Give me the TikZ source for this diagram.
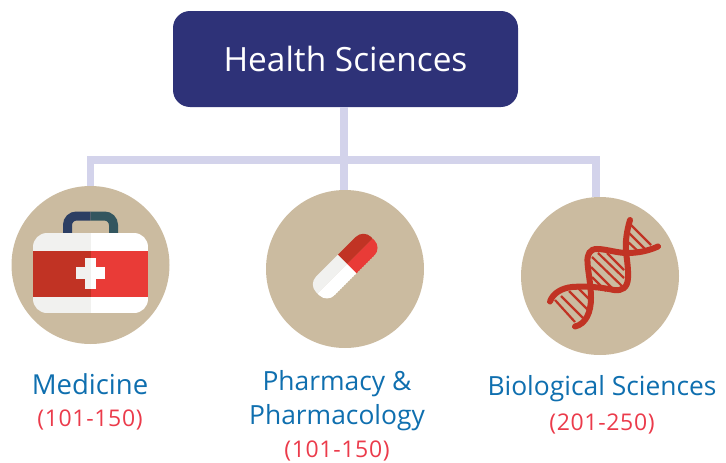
\documentclass[tikz,border=0pt]{standalone}
\usepackage{fontspec}
\setmainfont{Open Sans}
\newfontfamily\rangefont[LetterSpace=3]{Open Sans}
\usetikzlibrary{positioning}

\definecolor{hsnavy}{HTML}{2E3278}
\definecolor{hsbar}{HTML}{D3D3EB}
\definecolor{hstan}{HTML}{CBBBA0}
\definecolor{hsblue}{HTML}{0F6FAF}
\definecolor{hsrange}{HTML}{EB3B4B}
\definecolor{hsdark}{HTML}{C13324}
\definecolor{hsred}{HTML}{E93B37}
\definecolor{hslight}{HTML}{F1F1EF}
\definecolor{hshandle}{HTML}{2C3E63}
\definecolor{hshandlelit}{HTML}{33565F}

\tikzset{
  barline/.style={draw=hsbar, line width=7.6pt},
  topbox/.style={fill=hsnavy, text=white, rounded corners=17pt, minimum width=345pt, minimum height=96pt, font=\fontsize{33.4}{40}\selectfont},
  bubble/.style={circle, fill=hstan, minimum size=158pt, inner sep=0pt},
  fieldlabel/.style={text=hsblue, inner sep=0pt, font=\fontsize{26.4}{30}\selectfont},
  rangelabel/.style={text=hsrange, inner sep=0pt, font=\fontsize{23}{27}\selectfont\rangefont},
  strand/.style={draw=hsdark, line width=6pt, line cap=round},
  hatch/.style={draw=hsdark, line width=2.2pt},
}

\begin{document}
\begin{tikzpicture}[x=1pt, y=-1pt]
\useasboundingbox (0,0) rectangle (726,463);

% Nodes
\node (health) [topbox] at (345.5,59) {Health Sciences};
\node (medicine) [bubble] at (90.5,265) {};
\node (pharmacy) [bubble] at (345,269) {};
\node (biology) [bubble] at (600,276) {};

\node (medname) [fieldlabel, font=\fontsize{27.5}{30}\selectfont] at (90,384) {Medicine};
\node (medrange) [rangelabel] at (90,420) {(101-150)};
\node (phaname) [fieldlabel] at (337,384) {Pharmacy \&};
\node (phaname2) [fieldlabel] at (337,418) {Pharmacology};
\node (pharange) [rangelabel] at (337,450.5) {(101-150)};
\node (bioname) [fieldlabel] at (602,389) {Biological Sciences};
\node (biorange) [rangelabel] at (602,424) {(201-250)};

% Connectors
\coordinate (hubl) at (90.5,160);
\coordinate (hubm) at (343.7,160);
\coordinate (hubr) at (596,160);
\draw[barline] (health.south -| hubm) -- (hubm);
\draw[barline, line cap=rect] (hubl) -- (hubr);
\draw[barline] (hubl) -- (medicine.north -| hubl);
\draw[barline] (hubm) -- (pharmacy.north -| hubm);
\draw[barline] (hubr) -- (biology.north -| hubr);

% Medicine kit
\draw[line width=9pt, draw=hshandle, rounded corners=9pt] (67.5,233) -- (67.5,216) -- (90.7,216);
\draw[line width=9pt, draw=hshandlelit, rounded corners=9pt] (113.5,233) -- (113.5,216) -- (90.7,216);
\begin{scope}
  \clip[rounded corners=14pt] (33,233) rectangle (148,313);
  \fill[hslight] (33,233) rectangle (90.7,313);
  \fill[white] (90.7,233) rectangle (148,313);
  \fill[hsdark] (33,251) rectangle (90.7,297);
  \fill[hsred] (90.7,251) rectangle (148,297);
\end{scope}
\fill[hslight] (76,267) rectangle (90.7,279);
\fill[hslight] (85,258) rectangle (90.7,289);
\fill[white] (90.7,267) rectangle (105,279);
\fill[white] (90.7,258) rectangle (96,289);

% Pill
\begin{scope}[shift={(347.3,264)}, rotate=45]
  \clip[rounded corners=11pt] (-42,-13.2) rectangle (36,13.2);
  \fill[hslight] (-42,-13.2) rectangle (0,0);
  \fill[white] (-42,0) rectangle (0,13.2);
  \fill[hsdark] (0,-13.2) rectangle (36,0);
  \fill[hsred] (0,0) rectangle (36,13.2);
\end{scope}

% DNA
\draw[hatch] (631,225) -- (651,245);
\draw[hatch] (628,232) -- (646,250);
\draw[hatch] (627,241) -- (640,253);
\draw[hatch] (598,253) -- (624,278);
\draw[hatch] (607,253) -- (624,270);
\draw[hatch] (592,257) -- (624,288);
\draw[hatch] (591,267) -- (616,292);
\draw[hatch] (592,277) -- (606,291);
\draw[hatch] (555,300) -- (575,322);
\draw[hatch] (561,296) -- (583,318);
\draw[hatch] (569,291) -- (589,311);
\draw[hatch] (578,288) -- (590,300);
\draw[strand] (630,220) .. controls (627,230) and (625,242) .. (626,252) .. controls (627,260) and (628.5,270) .. (628,278) .. controls (627.5,288) and (622,291) .. (614,290) .. controls (600,287) and (585,286) .. (572,287) .. controls (562,288) and (553,293) .. (550,301.5);
\draw[strand] (658,246.5) .. controls (648,251) and (638,253) .. (627,253) .. controls (617,253) and (606,249) .. (597,249) .. controls (590,249) and (587,254) .. (587.5,262) .. controls (588,272) and (591,285) .. (591,298) .. controls (591,312) and (586,324) .. (575,326.5);
\end{tikzpicture}
\end{document}
